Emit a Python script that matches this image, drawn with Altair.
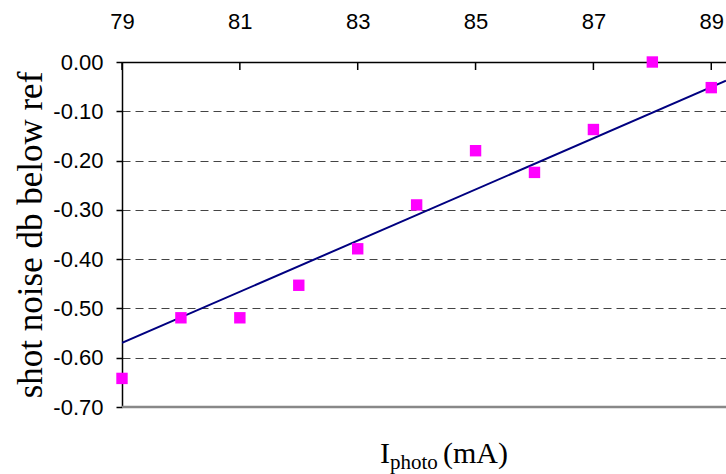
import altair as alt
import pandas as pd

# data
current_ma = [79, 80, 81, 82, 83, 84, 85, 86, 87, 88, 89]
noise_db = [-0.642, -0.519, -0.519, -0.453, -0.379, -0.290, -0.180, -0.224, -0.137, 0.000, -0.052]
trend_x = [79, 89.25]
trend_y = [-0.570, -0.038]
x_ticks = [79, 81, 83, 85, 87, 89]
y_ticks = [0.0, -0.1, -0.2, -0.3, -0.4, -0.5, -0.6, -0.7]
title_parts = ["I", "photo", "(mA)"]

W, H = 604, 345
pts = pd.DataFrame({"x": current_ma, "y": noise_db})
trend = pd.DataFrame({"x": trend_x, "y": trend_y})
ticks = pd.DataFrame({"x": x_ticks})

xs = alt.Scale(domain=[79, 89.25], nice=False, zero=False)
ys = alt.Scale(domain=[-0.7, 0.0], nice=False, zero=False)

x_axis = alt.Axis(
    orient="top", values=x_ticks, title=None, tickSize=0, labelPadding=29, format="d",
    labelFont="Liberation Sans", labelFontSize=22, labelColor="black",
    domainColor="black", domainWidth=1.5, grid=False, labelFlush=False,
)
y_axis = alt.Axis(
    orient="left", values=y_ticks, title="shot noise db below ref",
    labelExpr="replace(format(datum.value, '.2f'), '\u2212', '-')",
    tickSize=6, tickColor="black", tickWidth=1.5, labelPadding=13,
    labelFont="Liberation Sans", labelFontSize=22, labelColor="black",
    domainColor="black", domainWidth=1.5,
    grid=True, gridDash=[8, 5], gridColor="#444444", gridWidth=1,
    titleFont="Liberation Serif", titleFontSize=35, titleFontWeight="normal",
    titleColor="black", titlePadding=4,
)

base_pts = alt.Chart(pts).mark_square(size=130, color="#FF00FF", opacity=1, clip=False).encode(
    x=alt.X("x:Q", scale=xs, axis=x_axis),
    y=alt.Y("y:Q", scale=ys, axis=y_axis),
)

line = alt.Chart(trend).mark_line(color="#000080", strokeWidth=2, clip=True).encode(
    x=alt.X("x:Q", scale=xs),
    y=alt.Y("y:Q", scale=ys),
)

top_ticks = alt.Chart(ticks).mark_rule(color="black", strokeWidth=1.5).encode(
    x=alt.X("x:Q", scale=xs),
    y=alt.value(0),
    y2=alt.value(8),
)

bottom_line = alt.Chart(pd.DataFrame({"y": [-0.7]})).mark_rule(color="#888888", strokeWidth=2.5).encode(
    y=alt.Y("y:Q", scale=ys),
    x=alt.value(0),
    x2=alt.value(W),
)

t1 = alt.Chart(pd.DataFrame({"t": [title_parts[0]]})).mark_text(
    font="Liberation Serif", fontSize=30, align="left", baseline="alphabetic", color="black"
).encode(text="t:N", x=alt.value(258), y=alt.value(401))
t2 = alt.Chart(pd.DataFrame({"t": [title_parts[1]]})).mark_text(
    font="Liberation Serif", fontSize=21, align="left", baseline="alphabetic", color="black"
).encode(text="t:N", x=alt.value(268), y=alt.value(407))
t3 = alt.Chart(pd.DataFrame({"t": [title_parts[2]]})).mark_text(
    font="Liberation Serif", fontSize=30, align="left", baseline="alphabetic", color="black"
).encode(text="t:N", x=alt.value(321), y=alt.value(401))

chart = alt.layer(bottom_line, line, top_ticks, base_pts, t1, t2, t3).properties(
    width=W, height=H,
    autosize=alt.AutoSizeParams(type="none"),
    padding={"left": 122, "top": 62, "right": 0, "bottom": 67},
    background="white",
).configure_view(stroke=None)

chart.save("out.html", embed_options={"renderer": "svg", "actions": False})
